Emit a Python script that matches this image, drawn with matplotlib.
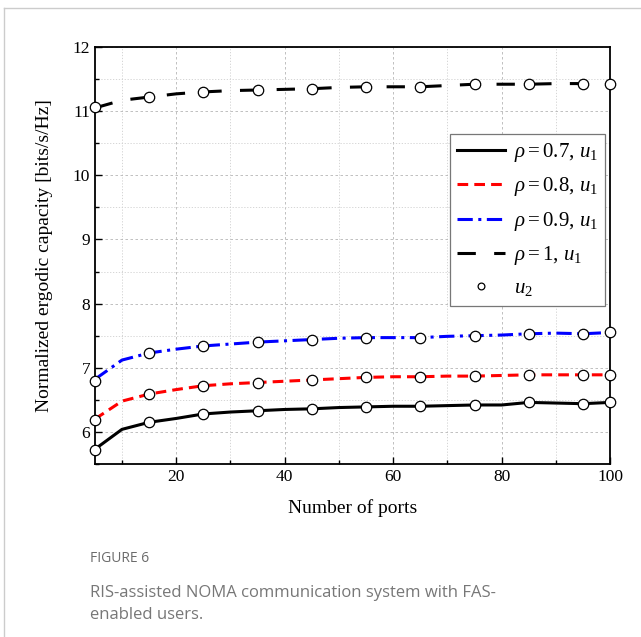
import numpy as np
import matplotlib.pyplot as plt
from matplotlib.lines import Line2D
from matplotlib.ticker import MultipleLocator

plt.rcParams['font.family'] = 'Liberation Serif'
plt.rcParams['mathtext.fontset'] = 'custom'
plt.rcParams['mathtext.rm'] = 'Liberation Serif'
plt.rcParams['mathtext.it'] = 'Liberation Serif:italic'

# data
ports = [5, 10, 15, 20, 25, 30, 35, 40, 45, 50, 55, 60, 65, 70, 75, 80, 85, 90, 95, 100]
cap_07 = [5.73, 6.04, 6.15, 6.21, 6.28, 6.31, 6.33, 6.35, 6.36, 6.38, 6.39, 6.40, 6.40, 6.41, 6.42, 6.42, 6.46, 6.45, 6.44, 6.46]
cap_08 = [6.20, 6.48, 6.59, 6.66, 6.72, 6.75, 6.77, 6.79, 6.81, 6.83, 6.85, 6.86, 6.86, 6.87, 6.87, 6.88, 6.89, 6.89, 6.89, 6.89]
cap_09 = [6.82, 7.12, 7.23, 7.29, 7.34, 7.37, 7.40, 7.42, 7.44, 7.46, 7.47, 7.47, 7.47, 7.49, 7.50, 7.51, 7.53, 7.54, 7.53, 7.55]
cap_10 = [11.05, 11.17, 11.22, 11.27, 11.30, 11.32, 11.33, 11.34, 11.35, 11.37, 11.38, 11.38, 11.38, 11.40, 11.42, 11.42, 11.42, 11.43, 11.43, 11.43]

# u2 markers sit on every curve at these ports
u2_ports = [5, 15, 25, 35, 45, 55, 65, 75, 85, 95, 100]
u2_07 = [5.72, 6.15, 6.28, 6.33, 6.36, 6.39, 6.40, 6.42, 6.46, 6.44, 6.46]
u2_08 = [6.18, 6.59, 6.72, 6.77, 6.81, 6.85, 6.86, 6.87, 6.89, 6.89, 6.89]
u2_09 = [6.80, 7.23, 7.34, 7.40, 7.44, 7.47, 7.47, 7.50, 7.53, 7.53, 7.55]
u2_10 = [11.06, 11.22, 11.30, 11.33, 11.35, 11.38, 11.38, 11.42, 11.42, 11.43, 11.43]

fig = plt.figure(figsize=(6.41, 6.37), dpi=100)
ax = fig.add_axes([0.148, 0.2716, 0.804, 0.6546])

lw = 2.2
ax.plot(ports, cap_07, color='black', lw=lw, ls='-', label=r'$\rho = 0.7,\, u_{\mathit{1}}$')
ax.plot(ports, cap_08, color='red', lw=lw, ls=(0, (3.5, 2)), label=r'$\rho = 0.8,\, u_{\mathit{1}}$')
ax.plot(ports, cap_09, color='blue', lw=lw, ls=(0, (5, 1.8, 1, 1.8)), label=r'$\rho = 0.9,\, u_{\mathit{1}}$')
ax.plot(ports, cap_10, color='black', lw=lw, ls=(0, (6, 6)), label=r'$\rho = 1,\, u_{\mathit{1}}$')

mk = dict(ls='none', marker='o', ms=7.5, mfc='white', mec='black', mew=0.9, zorder=5, clip_on=False)
ax.plot(u2_ports, u2_07, label=r'$u_{\mathit{2}}$', **mk)
ax.plot(u2_ports, u2_08, **mk)
ax.plot(u2_ports, u2_09, **mk)
ax.plot(u2_ports, u2_10, **mk)

ax.set_xlim(5, 100)
ax.set_ylim(5.5, 12)
ax.xaxis.set_major_locator(MultipleLocator(20))
ax.xaxis.set_minor_locator(MultipleLocator(10))
ax.yaxis.set_major_locator(MultipleLocator(1))
ax.yaxis.set_minor_locator(MultipleLocator(0.5))
ax.tick_params(which='major', direction='in', length=5, width=1, labelsize=12.5)
ax.tick_params(which='minor', direction='in', length=3, width=1)
ax.grid(which='major', color='#b5b5b5', ls=(0, (3, 3)), lw=0.6)
ax.grid(which='minor', color='#cfcfcf', ls=(0, (1.5, 2)), lw=0.6)
for s in ax.spines.values():
    s.set_linewidth(1.3)

ax.set_xlabel('Number of ports', fontsize=14, labelpad=10)
ax.set_ylabel('Normalized ergodic capacity [bits/s/Hz]', fontsize=14, labelpad=14)

leg = ax.legend(loc='upper right', bbox_to_anchor=(0.99, 0.792), fontsize=15,
                handlelength=2.3, labelspacing=0.55, fancybox=False, markerscale=0.65,
                framealpha=1, edgecolor='#777777', borderpad=0.35, handletextpad=0.4,
                borderaxespad=0)
leg.get_frame().set_linewidth(0.9)

# page frame lines and caption
fig.add_artist(Line2D([0.006, 1], [0.987, 0.987], color='#cccccc', lw=1))
fig.add_artist(Line2D([0.006, 0.006], [0, 0.987], color='#cccccc', lw=1))
fig.text(0.14, 0.117, 'FIGURE 6', family='Open Sans', fontsize=10, color='#6b6b6b')
fig.text(0.14, 0.028, 'RIS-assisted NOMA communication system with FAS-\nenabled users.',
         family='Open Sans', fontsize=12, color='#777777', linespacing=1.55)

fig.savefig('out.png', dpi=100)
